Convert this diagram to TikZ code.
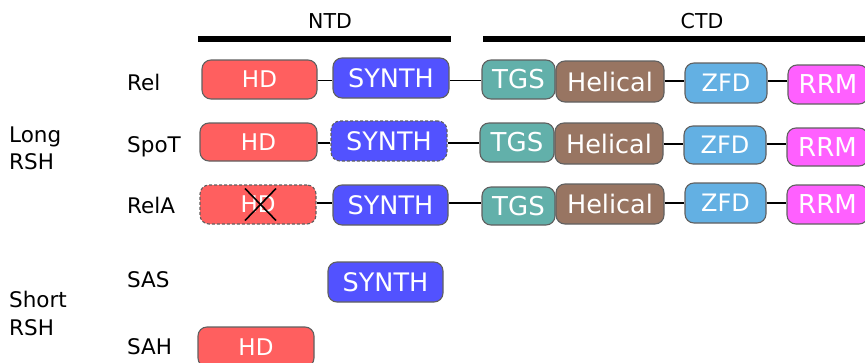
\documentclass[tikz,border=0pt]{standalone}
\usepackage{fontspec}
\setmainfont{DejaVu Sans}
\usetikzlibrary{calc}

\definecolor{hdred}{HTML}{FF5F5F}
\definecolor{synthblue}{HTML}{5252FF}
\definecolor{tgsteal}{HTML}{62B0AA}
\definecolor{helbrown}{HTML}{987562}
\definecolor{zfdblue}{HTML}{63B0E3}
\definecolor{rrmpink}{HTML}{FF60FF}
\definecolor{edgegray}{HTML}{606060}

\tikzset{
  dom/.style={draw=edgegray, line width=1.1pt, rounded corners=9pt,
    text=white, inner sep=0pt, align=center},
  hd/.style={dom, fill=hdred, font=\fontsize{23}{26}\selectfont},
  synth/.style={dom, fill=synthblue, font=\fontsize{25.5}{28}\selectfont},
  tgs/.style={dom, fill=tgsteal, font=\fontsize{26}{28}\selectfont},
  helical/.style={dom, fill=helbrown, font=\fontsize{25.5}{28}\selectfont},
  zfd/.style={dom, fill=zfdblue, font=\fontsize{24}{26}\selectfont},
  rrm/.style={dom, fill=rrmpink, font=\fontsize{26}{28}\selectfont},
  inactive/.style={dash pattern=on 3pt off 2pt},
  link/.style={line width=1.6pt, black},
  lbl/.style={anchor=base west, inner sep=0pt, font=\fontsize{21.5}{24}\selectfont},
  head/.style={anchor=base, inner sep=0pt, font=\fontsize{20.5}{24}\selectfont},
  region/.style={line width=5.5pt, black}
}

\begin{document}
\begin{tikzpicture}[x=1pt,y=-1pt]
\useasboundingbox (0,0) rectangle (865,362);
\clip (0,0) rectangle (865,362);

% domain headings
\node[head] (ntd) at (330,28) {NTD};
\node[head] (ctd) at (702,28) {CTD};
\coordinate (ntdL) at (198,39);
\coordinate (ntdR) at (451,39);
\coordinate (ctdL) at (483,39);
\coordinate (ctdR) at (866,39);
\draw[region] (ntdL) -- (ntdR);
\draw[region] (ctdL) -- (ctdR);

% group labels
\node[lbl] (long1) at (9,142) {Long};
\node[lbl] (long2) at (9,169) {RSH};
\node[lbl] (short1) at (9,307) {Short};
\node[lbl] (short2) at (9,335) {RSH};

% protein names
\node[lbl] (nRel) at (127,90) {Rel};
\node[lbl] (nSpoT) at (127,152) {SpoT};
\node[lbl] (nRelA) at (127,213) {RelA};
\node[lbl] (nSAS) at (127,287) {SAS};
\node[lbl] (nSAH) at (127,354) {SAH};

% Rel
\node[hd, minimum width=115pt, minimum height=39pt] (aHD) at (259.5,79.5) {HD};
\node[synth, minimum width=116pt, minimum height=40pt] (aSY) at (391,78) {SYNTH};
\node[tgs, minimum width=73pt, minimum height=39pt] (aTG) at (518.5,79.5) {TGS};
\node[helical, minimum width=108pt, minimum height=41pt] (aHE) at (610,81.5) {Helical};
\node[zfd, minimum width=82pt, minimum height=40pt] (aZF) at (726,83) {ZFD};
\node[rrm, minimum width=80pt, minimum height=39pt] (aRR) at (828,84.5) {RRM};

% SpoT
\node[hd, minimum width=117pt, minimum height=38pt] (bHD) at (258.5,142) {HD};
\node[synth, inactive, minimum width=116pt, minimum height=40pt] (bSY) at (389,141) {SYNTH};
\node[tgs, minimum width=74pt, minimum height=39pt] (bTG) at (517,142.5) {TGS};
\node[helical, minimum width=108pt, minimum height=41pt] (bHE) at (609,143.5) {Helical};
\node[zfd, minimum width=82pt, minimum height=38pt] (bZF) at (725,145) {ZFD};
\node[rrm, minimum width=81pt, minimum height=38pt] (bRR) at (827.5,147) {RRM};

% RelA
\node[hd, inactive, minimum width=116pt, minimum height=39pt] (cHD) at (258,204.5) {HD};
\node[synth, minimum width=115pt, minimum height=40pt] (cSY) at (390.5,205) {SYNTH};
\node[tgs, minimum width=73pt, minimum height=38pt] (cTG) at (518.5,206) {TGS};
\node[helical, minimum width=108pt, minimum height=40pt] (cHE) at (610,204) {Helical};
\node[zfd, minimum width=81pt, minimum height=40pt] (cZF) at (725.5,203) {ZFD};
\node[rrm, minimum width=81pt, minimum height=39pt] (cRR) at (827.5,204.5) {RRM};

% cross over the inactive hydrolase
\draw[link] ($(cHD.center)+(-13,-16)$) -- ($(cHD.center)+(18,16)$);
\draw[link] ($(cHD.center)+(18,-16)$) -- ($(cHD.center)+(-13,16)$);

% short RSH
\node[synth, minimum width=115pt, minimum height=40pt] (dSY) at (385.5,282) {SYNTH};
\node[hd, minimum width=116pt, minimum height=40pt] (eHD) at (256,347) {HD};

% linkers
\draw[link] ($(aHD.east)+(0,1)$) -- ($(aHD.east -| aSY.west)+(0,1)$);
\draw[link] ($(aSY.east)+(0,2.5)$) -- ($(aSY.east -| aTG.west)+(0,2.5)$);
\draw[link] ($(aHE.east)+(0,-0.5)$) -- ($(aHE.east -| aZF.west)+(0,-0.5)$);
\draw[link] ($(aZF.east)+(0,-2)$) -- ($(aZF.east -| aRR.west)+(0,-2)$);

\draw[link] ($(bHD.east)+(0,1)$) -- ($(bHD.east -| bSY.west)+(0,1)$);
\draw[link] ($(bSY.east)+(0,2)$) -- ($(bSY.east -| bTG.west)+(0,2)$);
\draw[link] ($(bHE.east)+(0,0.5)$) -- ($(bHE.east -| bZF.west)+(0,0.5)$);
\draw[link] ($(bZF.east)+(0,-1)$) -- ($(bZF.east -| bRR.west)+(0,-1)$);

\draw[link] ($(cHD.east)+(0,-1.5)$) -- ($(cHD.east -| cSY.west)+(0,-1.5)$);
\draw[link] ($(cSY.east)+(0,-2)$) -- ($(cSY.east -| cTG.west)+(0,-2)$);
\draw[link] ($(cHE.east)+(0,-1)$) -- ($(cHE.east -| cZF.west)+(0,-1)$);
\draw[link] ($(cZF.east)+(0,0)$) -- ($(cZF.east -| cRR.west)+(0,0)$);
\end{tikzpicture}
\end{document}
